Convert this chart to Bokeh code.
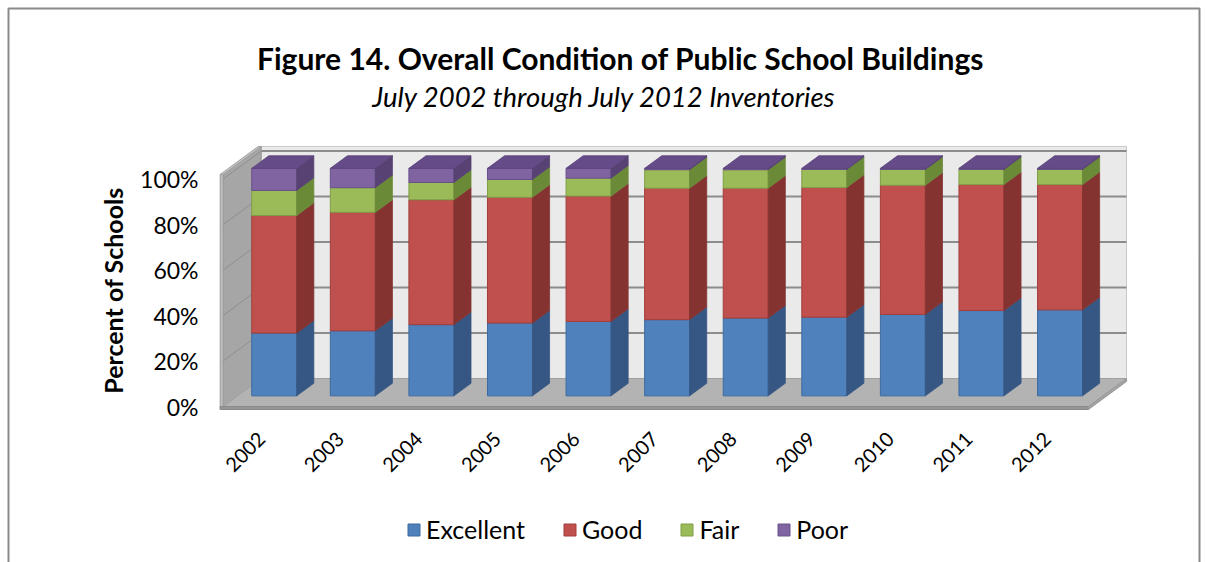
import math
from bokeh.plotting import figure
from bokeh.models import ColumnDataSource, Legend, LegendItem
from bokeh.core.properties import value
from bokeh.embed import file_html
from bokeh.resources import INLINE

# ---------------- data ----------------
years = ["2002", "2003", "2004", "2005", "2006", "2007", "2008", "2009", "2010", "2011", "2012"]
excellent = [27.6, 28.6, 31.3, 32.0, 32.7, 33.5, 34.2, 34.6, 35.8, 37.5, 37.8]
good = [51.7, 52.1, 54.9, 55.3, 55.1, 57.8, 57.1, 57.0, 56.8, 55.4, 55.1]
fair = [11.0, 10.8, 7.6, 7.8, 7.9, 8.1, 8.1, 7.9, 6.9, 6.6, 6.6]
poor = [9.7, 8.5, 6.2, 4.9, 4.3, 0.6, 0.6, 0.5, 0.5, 0.5, 0.5]
series_names = ["Excellent", "Good", "Fair", "Poor"]
y_ticks = [0, 20, 40, 60, 80, 100]
y_tick_labels = ["0%", "20%", "40%", "60%", "80%", "100%"]
title_text = "Figure 14. Overall Condition of Public School Buildings"
subtitle_text = "July 2002 through July 2012 Inventories"
y_title = "Percent of Schools"

# ---------------- geometry (pixel calibration) ----------------
W, H = 1206, 562
X0_PX, XSTEP = 259.3, 78.58      # front-plane pixel of category 0, pixels per category
Y0_PX, YSTEP = 406.0, 2.275      # front-plane pixel of 0 %, pixels per percent


def X(px):
    return (px - X0_PX) / XSTEP


def Y(py):
    return (Y0_PX - py) / YSTEP


DX = 38 / XSTEP     # full depth shift, x
DY = 28 / YSTEP     # full depth shift, y
F = 0.38            # depth of bar front face
D = 0.45            # bar depth
BW = 45 / XSTEP     # bar front width
XL, XR = X(222.7), X(1088.0)
VTOP = 102
T = 3 / YSTEP

front_col = ["#4F81BD", "#C0504D", "#9BBB59", "#8064A2"]
edge_col = ["#3E6B9F", "#A23E3B", "#809E47", "#68508A"]
side_col = ["#365784", "#843331", "#6B8A38", "#574273"]
top_col = "#654C88"

p = figure(width=W, height=H, x_range=(X(0), X(W)), y_range=(Y(H), Y(0)),
           x_axis_location=None, y_axis_location=None, toolbar_location=None,
           output_backend="svg", min_border=0, outline_line_color=None,
           background_fill_color="white", border_fill_color="white")
p.xgrid.visible = False
p.ygrid.visible = False

# ---------------- walls & floor ----------------
p.patch([XL + DX, XR + DX, XR + DX, XL + DX], [DY, DY, VTOP + DY, VTOP + DY],
        fill_color="#EAEAEA", line_color="#C8C8C8", line_width=1)
p.patch([XL, XL + DX, XL + DX, XL], [0, DY, VTOP + DY, VTOP],
        fill_color="#A6A6A6", line_color="#9A9A9A", line_width=1)
p.patch([XL - 3 / XSTEP, XL, XL, XL - 3 / XSTEP], [-T, -T, VTOP, VTOP],
        fill_color="#BEBEBE", line_color="#9A9A9A", line_width=1)
p.patch([XL - 3 / XSTEP, XL, XL + DX, XL + DX - 3 / XSTEP],
        [VTOP, VTOP, VTOP + DY, VTOP + DY],
        fill_color="#C8C8C8", line_color="#A0A0A0", line_width=1)
p.patch([XL, XR, XR + DX, XL + DX], [0, 0, DY, DY],
        fill_color="#B3B3B3", line_color="#A0A0A0", line_width=1)
p.patch([XL - 3 / XSTEP, XR, XR, XL - 3 / XSTEP], [0, 0, -T, -T],
        fill_color="#959595", line_color="#8A8A8A", line_width=1)
p.patch([XR, XR + DX, XR + DX, XR], [0, DY, DY - T, -T],
        fill_color="#A3A3A3", line_color="#9A9A9A", line_width=1)

# gridlines
gv = y_ticks[1:]
p.multi_line([[XL + DX, XR + DX] for v in gv], [[v + DY, v + DY] for v in gv],
             line_color="#8C8C8C", line_width=2)
p.multi_line([[XL, XL + DX] for v in gv], [[v, v + DY] for v in gv],
             line_color="#8E8E8E", line_width=1)

# ---------------- bars ----------------
vals = [excellent, good, fair, poor]
bottom = [0.0] * len(years)
front_renderers = []
for s, ser in enumerate(vals):
    top = [b + v for b, v in zip(bottom, ser)]
    xc = [i + F * DX for i in range(len(years))]
    src = ColumnDataSource(dict(x=xc, bottom=[b + F * DY for b in bottom],
                                top=[t + F * DY for t in top]))
    r = p.vbar(x="x", width=BW, bottom="bottom", top="top", source=src,
               fill_color=front_col[s], line_color=edge_col[s], line_width=1)
    front_renderers.append(r)
    sx, sy = [], []
    for i in range(len(years)):
        xr0 = xc[i] + BW / 2
        b, t = bottom[i], top[i]
        sx.append([xr0, xr0 + D * DX, xr0 + D * DX, xr0])
        sy.append([b + F * DY, b + (F + D) * DY, t + (F + D) * DY, t + F * DY])
    p.patches(sx, sy, fill_color=side_col[s], line_color=side_col[s], line_width=0.8)
    bottom = top

tx, ty = [], []
for i in range(len(years)):
    xl0 = i + F * DX - BW / 2
    xr0 = i + F * DX + BW / 2
    t = bottom[i]
    tx.append([xl0, xr0, xr0 + D * DX, xl0 + D * DX])
    ty.append([t + F * DY, t + F * DY, t + (F + D) * DY, t + (F + D) * DY])
p.patches(tx, ty, fill_color=top_col, line_color="#5A437A", line_width=0.8)

# ---------------- texts ----------------
p.text(x=[X(620)], y=[Y(57)], text=[title_text], text_align="center",
       text_baseline="middle", text_font=value("Lato"), text_font_style="bold",
       text_font_size="30px", text_color="#000000")
p.text(x=[X(604)], y=[Y(96)], text=[subtitle_text], text_align="center",
       text_baseline="middle", text_font=value("Lato"), text_font_style="italic",
       text_font_size="27.5px", text_color="#000000")
p.text(x=[X(112)], y=[Y(290)], text=[y_title], angle=math.pi / 2,
       text_align="center", text_baseline="middle", text_font=value("Lato"),
       text_font_style="bold", text_font_size="25px", text_color="#000000")
p.text(x=[X(198)] * len(y_ticks), y=y_ticks, text=y_tick_labels, text_align="right",
       text_baseline="middle", text_font=value("Lato"), text_font_size="23px",
       text_color="#000000")
p.text(x=[i + 2 / XSTEP for i in range(len(years))], y=[Y(435)] * len(years),
       text=years, angle=math.pi / 4, text_align="right", text_baseline="middle",
       text_font=value("Lato"), text_font_size="20px", text_color="#000000")

# frame border
p.multi_line([[X(8), X(8), X(1199), X(1199)]], [[Y(575), Y(8), Y(8), Y(575)]],
             line_color="#8A8A8A", line_width=2)

# ---------------- legend ----------------
legend = Legend(items=[LegendItem(label=n, renderers=[r]) for n, r in zip(series_names, front_renderers)],
                orientation="horizontal", location=(406, 18), glyph_width=15, glyph_height=15,
                label_standoff=5, spacing=37, padding=0, margin=0,
                border_line_color=None, background_fill_alpha=0,
                label_text_font="Lato", label_text_font_size="25px",
                label_text_color="#000000")
p.add_layout(legend)

open("out.html", "w").write(file_html(p, INLINE))
